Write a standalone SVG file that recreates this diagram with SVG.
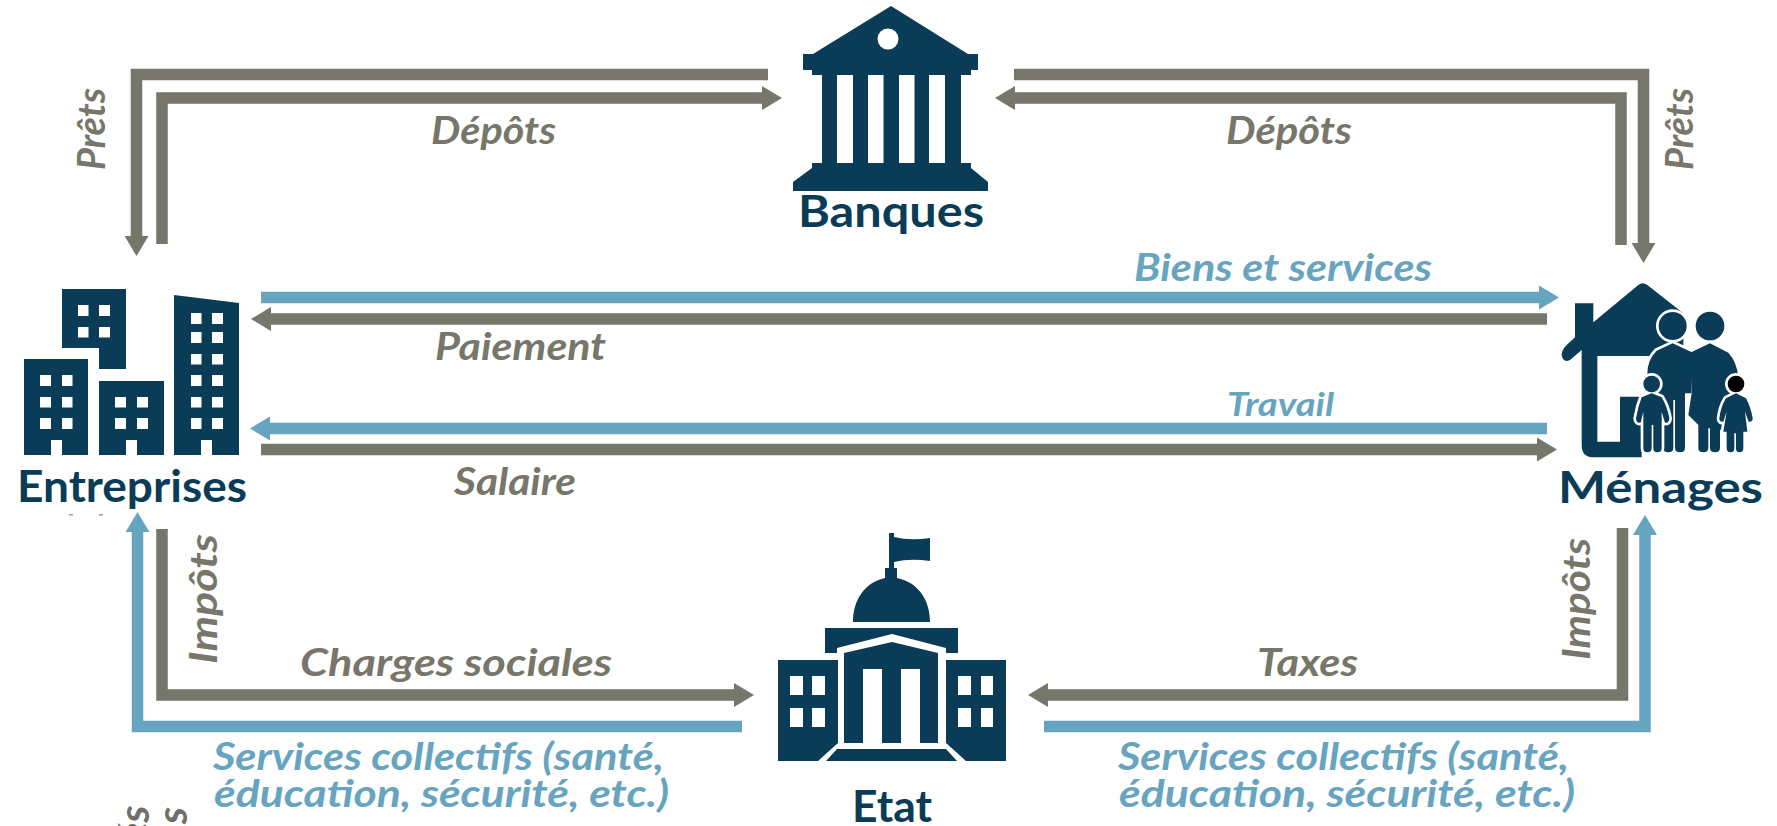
<svg xmlns="http://www.w3.org/2000/svg" width="1777" height="826" viewBox="0 0 1777 826">
<style>
text{font-family:"Lato","Liberation Sans",sans-serif}
.n{fill:#0b3c57}
.w{fill:#fff}
.nt{fill:#0b3c57;font-weight:700;font-size:44px;text-anchor:start}
.l{font-weight:700;font-style:italic;font-size:38px}
.g{fill:#76766a}
.b{fill:#67a4bf}
.cg,.cb{fill:none;stroke-width:11.5;stroke-linejoin:miter}
.cg{stroke:#76766a}
.cb{stroke:#67a4bf}
.halo{fill:#fff;stroke:#fff;stroke-width:16;stroke-linejoin:round}
</style>
<defs>
<marker id="ag" markerUnits="userSpaceOnUse" viewBox="0 0 20 24" refX="0" refY="12" markerWidth="20" markerHeight="24" orient="auto"><path d="M0,0L20,12L0,24Z" fill="#76766a"/></marker>
<marker id="ab" markerUnits="userSpaceOnUse" viewBox="0 0 20 24" refX="0" refY="12" markerWidth="20" markerHeight="24" orient="auto"><path d="M0,0L20,12L0,24Z" fill="#67a4bf"/></marker>
<path id="childA" d="M425,400L455,412Q472,440 478,475Q478,490 465,488L455,455V565Q455,577 442,577Q430,577 430,565V495H425V565Q425,577 412,577Q400,577 400,565V455L392,488Q378,490 378,475Q384,440 395,412Z"/>
<path id="childB" d="M678,400L708,415Q722,440 728,475Q728,487 716,485L705,455L712,515H700V565Q700,577 688,577Q678,577 678,565V520H673V565Q673,577 662,577Q650,577 650,565V515H640L650,455L640,485Q628,487 628,475Q632,440 648,415Z"/>
<path id="adultL" d="M488,250L544,276V400L525,400V563Q525,577 510,577Q495,577 495,563V420H490V563Q490,577 475,577Q460,577 460,563V470L412,430V340Q412,300 440,272Z"/>
</defs>
<rect width="1777" height="826" fill="#fff"/>
<g id="connectors">
<path class="cg" marker-end="url(#ag)" d="M768,74.5H136.5V236"/>
<path class="cg" marker-end="url(#ag)" d="M162,244V98H762"/>
<path class="cg" marker-end="url(#ag)" d="M1014,74.5H1643.5V243"/>
<path class="cg" marker-end="url(#ag)" d="M1621,245V98H1015"/>
<path class="cb" marker-end="url(#ab)" d="M261,297.5H1539"/>
<path class="cg" marker-end="url(#ag)" d="M1547,319H271"/>
<path class="cb" marker-end="url(#ab)" d="M1547,428.5H270"/>
<path class="cg" marker-end="url(#ag)" d="M261,449.5H1537"/>
<path class="cb" marker-end="url(#ab)" d="M742,726.5H137.5V532"/>
<path class="cg" marker-end="url(#ag)" d="M162,529V695H734"/>
<path class="cg" marker-end="url(#ag)" d="M1622.5,528V695H1048"/>
<path class="cb" marker-end="url(#ab)" d="M1044,726.5H1645V535"/>
</g>
<g id="labels">
<text class="l g" transform="translate(105,170) rotate(-90)" textLength="82" lengthAdjust="spacingAndGlyphs">Prêts</text>
<text class="l g" transform="translate(1693,170) rotate(-90)" textLength="82" lengthAdjust="spacingAndGlyphs">Prêts</text>
<text class="l g" x="431" y="144" textLength="125" lengthAdjust="spacingAndGlyphs">Dépôts</text>
<text class="l g" x="1226" y="144" textLength="126" lengthAdjust="spacingAndGlyphs">Dépôts</text>
<text class="l b" x="1134" y="281" textLength="298" lengthAdjust="spacingAndGlyphs">Biens et services</text>
<text class="l g" x="435" y="360" textLength="171" lengthAdjust="spacingAndGlyphs">Paiement</text>
<text class="l b" style="font-size:33px" x="1227" y="416" textLength="107" lengthAdjust="spacingAndGlyphs">Travail</text>
<text class="l g" x="454" y="495" textLength="122" lengthAdjust="spacingAndGlyphs">Salaire</text>
<text class="l g" transform="translate(217,664) rotate(-90)" textLength="130" lengthAdjust="spacingAndGlyphs">Impôts</text>
<text class="l g" transform="translate(1590,660) rotate(-90)" textLength="122" lengthAdjust="spacingAndGlyphs">Impôts</text>
<text class="l g" x="300" y="676" textLength="312" lengthAdjust="spacingAndGlyphs">Charges sociales</text>
<text class="l g" x="1257" y="676" textLength="101" lengthAdjust="spacingAndGlyphs">Taxes</text>
<text class="l b" x="213" y="770" textLength="451" lengthAdjust="spacingAndGlyphs">Services collectifs (santé,</text>
<text class="l b" x="214" y="807" textLength="455" lengthAdjust="spacingAndGlyphs">éducation, sécurité, etc.)</text>
<text class="l b" x="1118" y="770" textLength="451" lengthAdjust="spacingAndGlyphs">Services collectifs (santé,</text>
<text class="l b" x="1119" y="807" textLength="456" lengthAdjust="spacingAndGlyphs">éducation, sécurité, etc.)</text>
<text class="l" style="font-size:42px" fill="#6f6f6f" transform="translate(149,843) rotate(-90)">és</text>
<text class="l" style="font-size:42px" fill="#6f6f6f" transform="translate(187,824) rotate(-90)">s</text>
</g>
<g id="banques">
<path class="n" d="M891,6L968,54H978V70H971V75H961V163H971V168L988,182V191H793V182L812,168V163H822V75H812V70H803V54H813Z"/>
<circle class="w" cx="888" cy="39" r="10.5"/>
<rect class="w" x="837" y="75" width="16" height="88"/>
<rect class="w" x="868" y="75" width="15.500" height="88"/>
<rect class="w" x="899" y="75" width="15.500" height="88"/>
<rect class="w" x="929" y="75" width="16" height="88"/>
<text class="nt" x="798" y="227" textLength="186" lengthAdjust="spacingAndGlyphs">Banques</text>
</g>
<g id="entreprises">
<path class="n" d="M62,289H126V369H99V348H62Z"/>
<path class="n" d="M24,359H88V455H62V440H51V455H24Z"/>
<path class="n" d="M99,381H164V455H137V440H126V455H99Z"/>
<path class="n" d="M174,295L239,303V455H212V440H201V455H174Z"/>
<path class="w" d="M78,305h10.500v11H78zM99,305h11v11H99zM78,327h10.500v10.500H78zM99,327h11v10.500H99zM40,375h11v11H40zM62,375h10.500v11H62zM40,397h11v10.500H40zM62,397h10.500v10.500H62zM40,418h11v11H40zM62,418h10.500v11H62zM115,397h11v10.500h-11zM137,397h11v10.500h-11zM115,418h11v11h-11zM137,418h11v11h-11zM191,313h10.500v11H191zM212,313h11v11H212zM191,332h10.500v11H191zM212,332h11v11H212zM191,354h10.500v10.500H191zM212,354h11v10.500H212zM191,375h10.500v11H191zM212,375h11v11H212zM191,397h10.500v10.500H191zM212,397h11v10.500H212zM191,418h10.500v11H191zM212,418h11v11H212z"/>
<text class="nt" x="17" y="502" textLength="230" lengthAdjust="spacingAndGlyphs">Entreprises</text>
<rect x="69" y="514" width="4" height="1.500" fill="#556" opacity=".6"/>
<rect x="99" y="514" width="4" height="1.500" fill="#556" opacity=".6"/>
</g>
<g id="menages">
<g transform="translate(1510,260) scale(.33333)">
<path class="n" d="M195,130H250V187L385,75Q398,65 412,75L520,160V288H262V545H330V410H395V592H250Q215,592 215,555V270L180,300Q160,310 155,285Q155,270 170,255L195,232Z"/>
<circle class="halo" cx="488" cy="198" r="42"/>
<use href="#adultL" class="halo"/>
<circle class="n" cx="600" cy="198" r="43"/>
<path class="n" d="M540,278L600,250L655,278Q680,305 685,350V440H650V490L640,505L630,510V563Q630,577 615,577Q600,577 600,563V505H595V563Q595,577 580,577Q565,577 565,563V495L535,465L545,400Z"/>
<circle class="n" cx="488" cy="198" r="42"/>
<use href="#adultL" class="n"/>
<circle class="halo" cx="425" cy="372" r="25"/>
<use href="#childA" class="halo"/>
<circle class="n" cx="425" cy="372" r="25"/>
<use href="#childA" class="n"/>
<circle class="halo" cx="678" cy="372" r="25"/>
<use href="#childB" class="halo"/>
<circle cx="678" cy="372" r="25" fill="#000"/>
<use href="#childB" class="n"/>
</g>
<text class="nt" x="1558" y="503" textLength="205" lengthAdjust="spacingAndGlyphs">Ménages</text>
</g>
<g id="etat">
<path class="n" d="M889,533H894V537Q910,541 930,538V561Q910,558 894,562V568H897V578C918,582 930,600 930,622H853C853,600 865,582 885,578V568H889Z"/>
<rect class="n" x="825" y="628" width="133" height="25"/>
<path class="w" d="M837,662V648L892,634L946,648V662Z"/>
<path class="n" d="M844,743V653L892,642L938,653V743H920V669H901V743H882V669H863V743Z"/>
<path class="n" d="M778,660H838V743L818,761H778Z"/>
<path class="n" d="M946,660H1006V761H966L946,743Z"/>
<path class="n" d="M837,749H946L957,761H826Z"/>
<path class="w" d="M790,676h13v19h-13zM812,676h13v19h-13zM790,708h13v19h-13zM812,708h13v19h-13zM958,676h13v19h-13zM981,676h12v19h-12zM958,708h13v19h-13zM981,708h12v19h-12z"/>
<text class="nt" x="852" y="822" textLength="80" lengthAdjust="spacingAndGlyphs">Etat</text>
</g>
</svg>
